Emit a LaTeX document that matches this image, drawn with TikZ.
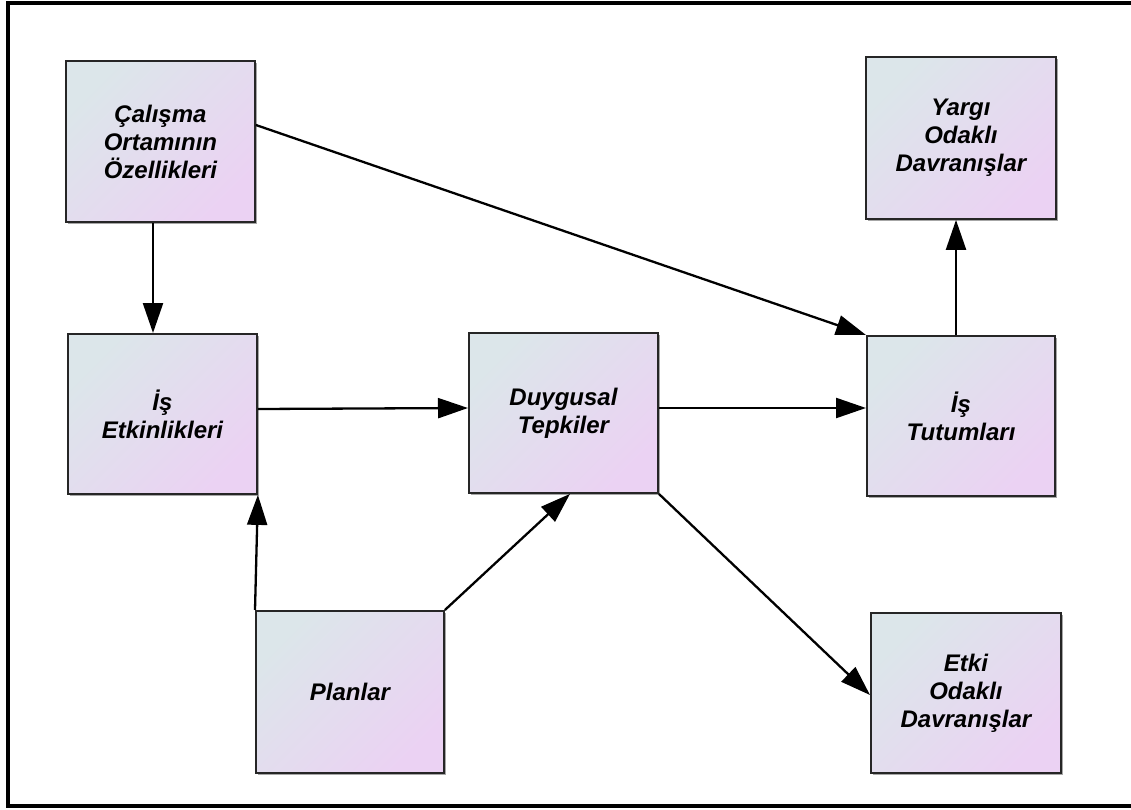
\documentclass[tikz,border=0pt]{standalone}
\usepackage{fontspec}
\setmainfont{Liberation Sans}
\usetikzlibrary{arrows.meta,shadows}
\definecolor{shadeA}{HTML}{DCE6EA}
\definecolor{shadeB}{HTML}{EBD2F3}
\begin{document}
\begin{tikzpicture}[x=1pt,y=-1pt,
  box/.style={draw=black!85, line width=1.9pt,
    top color=shadeA, bottom color=shadeB, shading angle=45,
    minimum width=189pt, minimum height=161pt, inner sep=0pt,
    align=center, anchor=north west,
    font=\fontsize{24}{28}\selectfont\bfseries\itshape,
    drop shadow={shadow xshift=1.6pt, shadow yshift=-1.6pt, fill=black, opacity=0.35}},
  arr/.style={line width=2.3pt, -{Triangle[length=30pt,width=20pt]}}]
\useasboundingbox (0,0) rectangle (1131,810);
% outer frame
\draw[line width=4pt] (7.5,3) rectangle (1136,805.5);

% boxes
\node[box] (cal)  at (65,60)   {Çalışma\\Ortamının\\Özellikleri};
\node[box, minimum width=190pt, minimum height=162pt] (yar) at (865,56) {Yargı\\Odaklı\\Davranışlar};
\node[box, minimum height=160pt] (etk)  at (67,333)  {İş\\Etkinlikleri};
\node[box, minimum height=160pt] (duy)  at (468,332) {Duygusal\\Tepkiler};
\node[box, minimum width=188pt, minimum height=160pt] (tut) at (866,335) {İş\\Tutumları};
\node[box, minimum width=188pt, minimum height=162pt] (plan) at (255,610) {Planlar};
\node[box, minimum width=190pt, minimum height=160pt] (etki) at (870,612) {Etki\\Odaklı\\Davranışlar};

% guide coordinates for connector positions
\coordinate (gx153) at (153,0);
\coordinate (gx570) at (570,0);
\coordinate (gx956) at (956,0);
\coordinate (gy125) at (0,125);
\coordinate (gy408) at (0,408);
\coordinate (gy409) at (0,409);
\coordinate (gy695) at (0,695);

% connectors
\draw[arr] (cal.south -| gx153) -- (etk.north -| gx153);
\draw[arr] (cal.east |- gy125) -- (tut.north west);
\draw[arr] (etk.east |- gy409) -- (duy.west |- gy408);
\draw[arr] (duy.east |- gy408) -- (tut.west |- gy408);
\draw[arr] (tut.north -| gx956) -- (yar.south -| gx956);
\draw[arr] (plan.north west) -- (etk.south east);
\draw[arr] (plan.north east) -- (duy.south -| gx570);
\draw[arr] (duy.south east) -- (etki.west |- gy695);
\end{tikzpicture}
\end{document}
